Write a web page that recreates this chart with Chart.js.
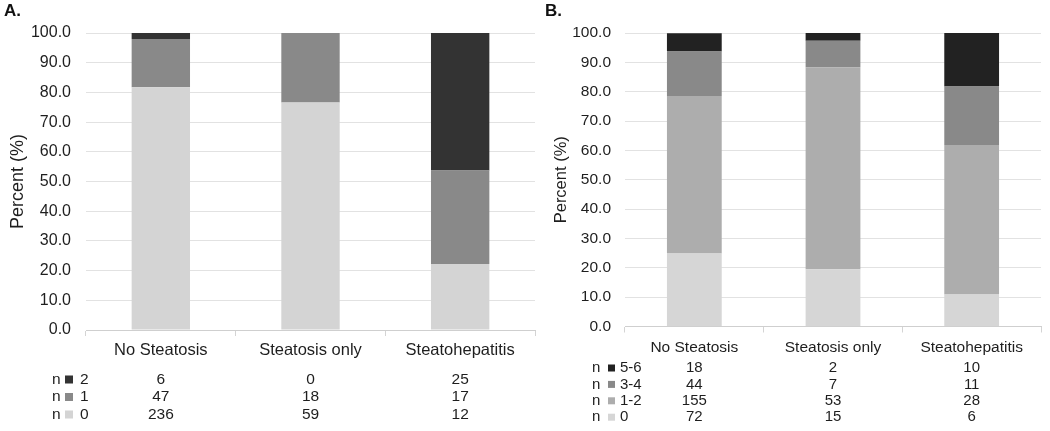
<!DOCTYPE html>
<html><head><meta charset="utf-8">
<script src="https://cdn.jsdelivr.net/npm/chart.js@4.4.0/dist/chart.umd.min.js"></script>
<style>
html,body{margin:0;padding:0;background:#fff;width:1050px;height:431px;overflow:hidden}
.wrap{position:absolute;top:0;height:431px}
#wa{left:0;width:540px}
#wb{left:520px;width:530px}
.lbl{position:absolute;top:1px;font:bold 17px "Liberation Sans",Arial,sans-serif;color:#111}
</style></head><body>
<div class="wrap" id="wa"><canvas id="ca" width="540" height="431"></canvas></div>
<div class="wrap" id="wb"><canvas id="cb" width="530" height="431"></canvas></div>
<div class="lbl" style="left:4px">A.</div>
<div class="lbl" style="left:545px">B.</div>
<script>
// ---- data ----
const categories = ['No Steatosis', 'Steatosis only', 'Steatohepatitis'];
const yTicks = [0, 10, 20, 30, 40, 50, 60, 70, 80, 90, 100];
const yTitle = 'Percent (%)';

// Panel A (percent values, counts from table)
const aLabels = ['0', '1', '2'];
const aPct0 = [81.7, 76.6, 22.2];
const aPct1 = [16.3, 23.4, 31.5];
const aPct2 = [2.1, 0.0, 46.3];
const aN0 = [236, 59, 12];
const aN1 = [47, 18, 17];
const aN2 = [6, 0, 25];

// Panel B
const bLabels = ['0', '1-2', '3-4', '5-6'];
const bPct0 = [24.9, 19.5, 10.9];
const bPct12 = [53.6, 68.8, 50.9];
const bPct34 = [15.2, 9.1, 20.0];
const bPct56 = [6.2, 2.6, 18.2];
const bN0 = [72, 15, 6];
const bN12 = [155, 53, 28];
const bN34 = [44, 7, 11];
const bN56 = [18, 2, 10];

const FONT = '"Liberation Sans", Arial, sans-serif';
const TXT = '#1e1e1e';

const tablePlugin = {
  id: 'nTable',
  afterDraw(chart, args, o) {
    const ctx = chart.ctx, xs = chart.scales.x;
    ctx.save();
    ctx.font = o.fontSize + 'px ' + FONT;
    ctx.textBaseline = 'middle';
    o.rows.forEach((r, i) => {
      const y = o.yStart + i * o.rowGap;
      ctx.fillStyle = TXT;
      ctx.textAlign = 'left';
      ctx.fillText('n', o.nX, y);
      ctx.fillText(r.label, o.labX, y);
      ctx.fillStyle = r.color;
      ctx.fillRect(o.sqX, y - o.sq / 2, o.sq, o.sq);
      ctx.fillStyle = TXT;
      ctx.textAlign = 'center';
      r.counts.forEach((c, j) => ctx.fillText(String(c), xs.getPixelForValue(j), y));
    });
    ctx.restore();
  }
};

function makeChart(id, g, datasets, rows) {
  return new Chart(document.getElementById(id), {
    type: 'bar',
    data: { labels: categories, datasets },
    plugins: [tablePlugin],
    options: {
      responsive: false, animation: false,
      layout: { padding: { left: 0, right: g.W - g.right, top: g.top, bottom: 0 } },
      datasets: { bar: { categoryPercentage: 1, barPercentage: g.barPct, borderWidth: 0 } },
      plugins: {
        legend: { display: false }, tooltip: { enabled: false },
        nTable: { rows, fontSize: g.tblFont, yStart: g.tblY, rowGap: g.tblGap, nX: g.nX, sqX: g.sqX, sq: g.sq, labX: g.labX }
      },
      scales: {
        x: {
          stacked: true,
          afterFit: s => { s.height = g.H - g.bottom; },
          grid: { drawOnChartArea: false, drawTicks: true, tickLength: 6, color: '#d4d4d4' },
          border: { color: '#cfcfcf' },
          ticks: { color: TXT, padding: g.xPad, maxRotation: 0, font: { family: FONT, size: g.catFont } }
        },
        y: {
          stacked: true, min: 0, max: 100,
          afterFit: s => { s.width = g.left; },
          afterBuildTicks: s => { s.ticks = yTicks.map(v => ({ value: v })); },
          grid: { drawTicks: false, color: '#e2e2e2' },
          border: { display: false },
          ticks: { color: TXT, padding: g.yPad, font: { family: FONT, size: g.tickFont }, callback: v => Number(v).toFixed(1) },
          title: { display: true, text: yTitle, color: TXT, padding: { top: g.titlePad, bottom: 0 }, font: { family: FONT, size: g.titleFont } }
        }
      }
    }
  });
}

makeChart('ca',
  { W: 540, H: 431, left: 86, right: 535, top: 33, bottom: 330, barPct: 0.39, xPad: 5, yPad: 15,
    catFont: 16.5, tickFont: 16, titleFont: 18, titlePad: 7,
    tblFont: 15.5, tblY: 379.5, tblGap: 17.5, nX: 52, sqX: 65, sq: 8, labX: 80 },
  [
    { label: aLabels[0], data: aPct0, backgroundColor: '#d4d4d4' },
    { label: aLabels[1], data: aPct1, backgroundColor: '#898989' },
    { label: aLabels[2], data: aPct2, backgroundColor: '#333333' }
  ],
  [
    { label: aLabels[2], color: '#333333', counts: aN2 },
    { label: aLabels[1], color: '#898989', counts: aN1 },
    { label: aLabels[0], color: '#d4d4d4', counts: aN0 }
  ]);

makeChart('cb',
  { W: 530, H: 431, left: 105, right: 521, top: 33, bottom: 326.5, barPct: 0.395, xPad: 6, yPad: 14,
    catFont: 15.5, tickFont: 15.5, titleFont: 16.5, titlePad: 32,
    tblFont: 15, tblY: 368, tblGap: 16.4, nX: 72, sqX: 88, sq: 7, labX: 100 },
  [
    { label: bLabels[0], data: bPct0, backgroundColor: '#d6d6d6' },
    { label: bLabels[1], data: bPct12, backgroundColor: '#adadad' },
    { label: bLabels[2], data: bPct34, backgroundColor: '#898989' },
    { label: bLabels[3], data: bPct56, backgroundColor: '#222222' }
  ],
  [
    { label: bLabels[3], color: '#222222', counts: bN56 },
    { label: bLabels[2], color: '#898989', counts: bN34 },
    { label: bLabels[1], color: '#adadad', counts: bN12 },
    { label: bLabels[0], color: '#d6d6d6', counts: bN0 }
  ]);
</script>
</body></html>
